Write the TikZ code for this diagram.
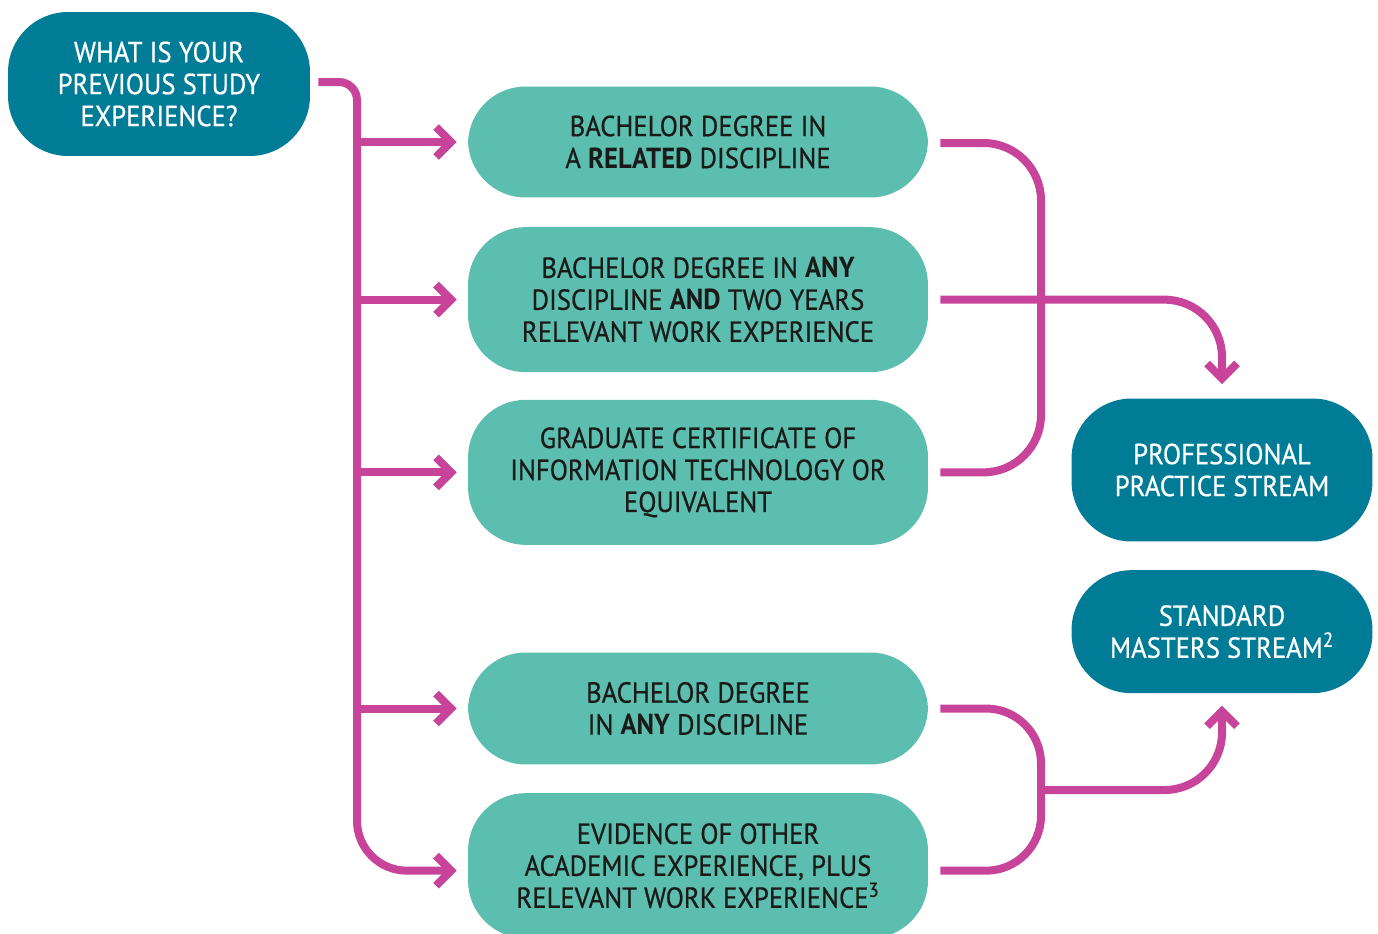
\documentclass[tikz,border=0pt]{standalone}
\usepackage{fontspec}
\setmainfont{PT Sans}[FakeStretch=0.92,UprightFeatures={FakeBold=0.6}]
\usetikzlibrary{arrows.meta,positioning,calc}
\definecolor{Petrol}{HTML}{007C97}
\definecolor{Mint}{HTML}{5BBEAE}
\definecolor{Magenta}{HTML}{C8449A}
\definecolor{Ink}{HTML}{1A1A1A}
\tikzset{
  ask/.style={fill=Petrol,text=white,rounded corners=1.2cm,minimum width=6.04cm,minimum height=2.88cm,align=center,font=\fontsize{16.5}{18.2}\selectfont},
  option/.style={fill=Mint,text=Ink,rounded corners=1.15cm,minimum width=9.2cm,minimum height=2.9cm,align=center,font=\fontsize{16.5}{18.2}\selectfont},
  stream/.style={fill=Petrol,text=white,rounded corners=1.2cm,minimum width=6.02cm,minimum height=2.86cm,align=center,font=\fontsize{16.5}{18.2}\selectfont},
  route/.style={draw=Magenta,line width=0.16cm},
  lead/.style={route,-{Straight Barb[length=0.3cm,width=0.6cm]}}
}
\begin{document}
\begin{tikzpicture}[x=0.02cm,y=-0.02cm]
  \useasboundingbox (0,0) rectangle (1378,933);
  % question and answers
  \node[ask] (q) at (159,84) {WHAT IS YOUR\\PREVIOUS STUDY\\EXPERIENCE?};
  \node[option,minimum height=2.22cm] (b1) at (698,142) {BACHELOR DEGREE IN\\A \textbf{RELATED} DISCIPLINE};
  \node[option,below=0.58cm of b1] (b2) {BACHELOR DEGREE IN \textbf{ANY}\\DISCIPLINE \textbf{AND} TWO YEARS\\RELEVANT WORK EXPERIENCE};
  \node[option,below=0.54cm of b2] (b3) {GRADUATE CERTIFICATE OF\\INFORMATION TECHNOLOGY OR\\EQUIVALENT};
  \node[option,minimum height=2.24cm,below=2.14cm of b3] (b4) {BACHELOR DEGREE\\IN \textbf{ANY} DISCIPLINE};
  \node[option,below=0.56cm of b4] (b5) {EVIDENCE OF OTHER\\ACADEMIC EXPERIENCE, PLUS\\RELEVANT WORK EXPERIENCE\textsuperscript{3}};
  % streams
  \node[stream] (pro) at (1222,470) {PROFESSIONAL\\PRACTICE STREAM};
  \node[stream,minimum height=2.46cm,below=0.56cm of pro] (std) {STANDARD\\MASTERS STREAM\textsuperscript{2}};
  \coordinate (spine) at (357,0);
  \coordinate (merge) at (1041,0);
  \coordinate (join) at (1041,790);
  \coordinate (qout) at ($(q.east)+(8,-2)$);
  \coordinate (tip5) at ($(b5.west)+(-11,5)$);
  % fan out from the question
  \draw[route,rounded corners=0.36cm] (qout) -| (spine |- b1.west);
  \draw[lead,rounded corners=1cm] (spine |- b1.west) -- (spine |- tip5) -- (tip5);
  \foreach \b in {b1,b2,b3,b4}
    \draw[lead] (spine |- \b.west) -- ($(\b.west)+(-11,0)$);
  % into the professional stream
  \draw[route,rounded corners=1.15cm] ($(b1.east)+(12,1)$) -| (merge |- b3.east) -- ($(b3.east)+(12,0)$);
  \draw[lead,rounded corners=1.15cm] ($(b2.east)+(12,0)$) -| ($(pro.north)+(0,-14)$);
  % into the standard stream
  \draw[route,rounded corners=1.1cm] ($(b4.east)+(12,0)$) -| ($(merge |- b5.east)+(0,5)$) -- ($(b5.east)+(12,5)$);
  \draw[lead,rounded corners=1.15cm] (join) -| ($(std.south)+(0,12)$);
\end{tikzpicture}
\end{document}
